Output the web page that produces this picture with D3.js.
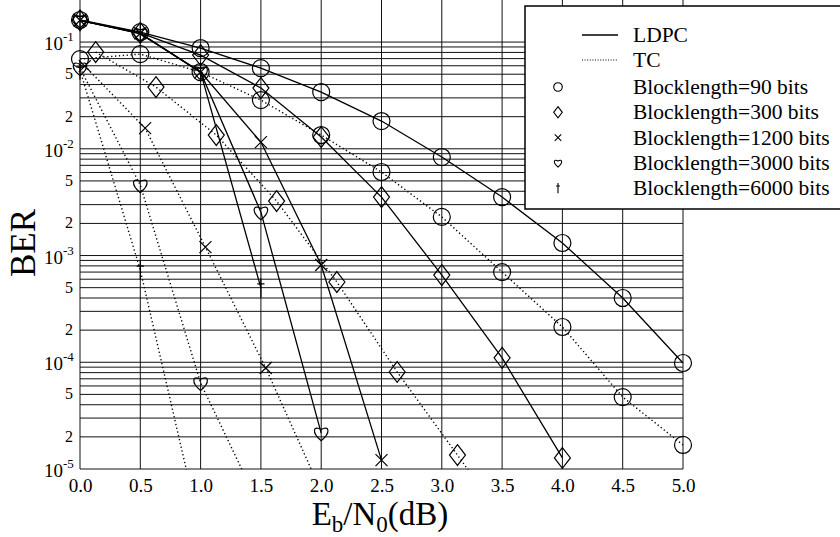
<!DOCTYPE html>
<html>
<head>
<meta charset="utf-8">
<script src="https://cdn.jsdelivr.net/npm/d3@7"></script>
<style>
  html, body { margin: 0; padding: 0; background: #fff; }
  svg { display: block; font-family: "Liberation Serif", "Times New Roman", serif; }
</style>
</head>
<body>
<svg id="chart"></svg>
<script>
// Eb/N0 points (dB)
var snrLdpc = [0, 0.5, 1.0, 1.5, 2.0, 2.5, 3.0, 3.5, 4.0, 4.5, 5.0];
var snrTc90 = [0, 0.5, 1.0, 1.5, 2.0, 2.5, 3.0, 3.5, 4.0, 4.5, 5.0];
var snrTc300 = [0.13, 0.63, 1.13, 1.63, 2.13, 2.63, 3.13, 3.63];
var snrTc1200 = [0.04, 0.54, 1.04, 1.54, 2.04];
var snrTc3000 = [0, 0.5, 1.0, 1.5];
var snrTc6000 = [0, 0.5, 1.0];

// BER values, LDPC (solid)
var berLdpc90 = [0.161, 0.124, 0.0879, 0.057, 0.034, 0.0182, 0.00837, 0.00353, 0.00131, 0.0004, 0.0000984];
var berLdpc300 = [0.16, 0.122, 0.0755, 0.0371, 0.0129, 0.00353, 0.000656, 0.00011, 0.0000127];
var berLdpc1200 = [0.16, 0.121, 0.0523, 0.01156, 0.000815, 0.0000121];
var berLdpc3000 = [0.16, 0.12, 0.0523, 0.00255, 0.0000217];
var berLdpc6000 = [0.16, 0.12, 0.0523, 0.000497];

// BER values, TC (dotted)
var berTc90 = [0.0693, 0.0772, 0.0523, 0.0286, 0.01346, 0.00606, 0.0023, 0.0007, 0.000214, 0.0000472, 0.0000168];
var berTc300 = [0.0806, 0.0379, 0.01346, 0.00324, 0.000565, 0.0000811, 0.0000135, 0.0000022];
var berTc1200 = [0.0596, 0.0156, 0.0012, 0.0000883, 0.0000049];
var berTc3000 = [0.0571, 0.00457, 0.000064, 0.0000042];
var berTc6000 = [0.0546, 0.000731, 0.0000026];

var xTicks = [0, 0.5, 1.0, 1.5, 2.0, 2.5, 3.0, 3.5, 4.0, 4.5, 5.0];
var yDecades = [1e-5, 1e-4, 1e-3, 1e-2, 1e-1];
var yDecadeExp = ["-5", "-4", "-3", "-2", "-1"];
var yMinorLabels = ["2", "5"];
var legendNames = ["Blocklength=90 bits", "Blocklength=300 bits", "Blocklength=1200 bits",
	"Blocklength=3000 bits", "Blocklength=6000 bits"];
var markerKinds = ["circle", "diamond", "cross", "heart", "dagger"];

var width = 840;
var height = 537;

var svg = d3.select("#chart")
	.attr("width", width)
	.attr("height", height);

var xScale = d3.scaleLinear()
	.domain([0, 5])
	.range([80, 683]);

var yScale = d3.scaleLog()
	.domain([1e-5, 0.161])
	.range([469, 20]);

var left = xScale(0), right = xScale(5), top = yScale(0.161), bottom = yScale(1e-5);

// grid
var gridY = [];
yDecades.forEach(function(d) {
	for (var k = 1; k <= 9; k++) {
		if (d * k <= 0.161) gridY.push(d * k);
	}
});

svg.append("g")
	.selectAll("line")
	.data(gridY)
	.enter()
	.append("line")
	.attr("x1", left)
	.attr("x2", right)
	.attr("y1", function(d) { return yScale(d); })
	.attr("y2", function(d) { return yScale(d); })
	.attr("stroke", "#111")
	.attr("stroke-width", 1);

svg.append("g")
	.selectAll("line")
	.data(xTicks)
	.enter()
	.append("line")
	.attr("x1", function(d) { return xScale(d); })
	.attr("x2", function(d) { return xScale(d); })
	.attr("y1", top)
	.attr("y2", bottom)
	.attr("stroke", "#111")
	.attr("stroke-width", 1);

svg.append("rect")
	.attr("x", left)
	.attr("y", top)
	.attr("width", right - left)
	.attr("height", bottom - top)
	.attr("fill", "none")
	.attr("stroke", "#000")
	.attr("stroke-width", 1.3);

// X Axis labels
var xAxis = d3.axisBottom(xScale)
	.tickValues(xTicks)
	.tickSize(0)
	.tickPadding(0)
	.tickFormat(d3.format(".1f"));

var xg = svg.append("g")
	.attr("transform", "translate(0," + bottom + ")")
	.attr("font-family", null)
	.call(xAxis);
xg.attr("font-family", "Liberation Serif");
xg.select(".domain").remove();
xg.selectAll("text")
	.attr("dy", null)
	.attr("y", 23)
	.attr("fill", "#000")
	.style("font-family", "Liberation Serif")
	.style("font-size", "19px");

// Y Axis labels
var yLab = svg.append("g");
yDecades.forEach(function(d, i) {
	yLab.append("text")
		.attr("x", 63)
		.attr("y", yScale(d) + 8)
		.attr("text-anchor", "end")
		.style("font-size", "19px")
		.text("10");
	yLab.append("text")
		.attr("x", 63)
		.attr("y", yScale(d) - 1)
		.style("font-size", "13px")
		.text(yDecadeExp[i]);
});
yDecades.slice(0, 4).forEach(function(d) {
	yMinorLabels.forEach(function(m) {
		yLab.append("text")
			.attr("x", 73)
			.attr("y", yScale(d * (+m)) + 5)
			.attr("text-anchor", "end")
			.style("font-size", "16px")
			.text(m);
	});
});

svg.append("text")
	.attr("text-anchor", "middle")
	.attr("transform", "translate(35,243)rotate(-90)")
	.style("font-size", "35px")
	.text("BER");

var xt = svg.append("text")
	.attr("x", 380)
	.attr("y", 525)
	.attr("text-anchor", "middle")
	.style("font-size", "33px");
xt.append("tspan").text("E");
xt.append("tspan").attr("dy", 7).style("font-size", "23px").text("b");
xt.append("tspan").attr("dy", -7).text("/N");
xt.append("tspan").attr("dy", 7).style("font-size", "23px").text("0");
xt.append("tspan").attr("dy", -7).text("(dB)");

// marker shapes
function markerPath(kind, s) {
	if (kind === "circle") {
		return "M" + s + ",0A" + s + "," + s + " 0 1,1 " + (-s) + ",0A" + s + "," + s + " 0 1,1 " + s + ",0Z";
	}
	if (kind === "diamond") {
		var h = s * 1.3;
		return "M0," + (-h) + "L" + s + ",0L0," + h + "L" + (-s) + ",0Z";
	}
	if (kind === "cross") {
		var c = s * 0.75;
		return "M" + (-c) + "," + (-c) + "L" + c + "," + c + "M" + c + "," + (-c) + "L" + (-c) + "," + c;
	}
	if (kind === "heart") {
		return "M0," + (0.95 * s) + "C" + (-1.25 * s) + "," + (-0.05 * s) + " " + (-1.0 * s) + "," + (-1.05 * s) +
			" 0," + (-0.45 * s) + "C" + (1.0 * s) + "," + (-1.05 * s) + " " + (1.25 * s) + "," + (-0.05 * s) + " 0," + (0.95 * s) + "Z";
	}
	// dagger
	return "M0," + (-1.2 * s) + "V" + (1.2 * s) + "M" + (-0.45 * s) + "," + (-0.5 * s) + "H" + (0.45 * s);
}

svg.append("clipPath").attr("id", "plotclip")
	.append("rect")
	.attr("x", 0)
	.attr("y", 0)
	.attr("width", width)
	.attr("height", bottom + 0.5);

var series = [
	{ x: snrLdpc, y: berLdpc90, kind: "circle", dash: null },
	{ x: snrLdpc, y: berLdpc300, kind: "diamond", dash: null },
	{ x: snrLdpc, y: berLdpc1200, kind: "cross", dash: null },
	{ x: snrLdpc, y: berLdpc3000, kind: "heart", dash: null },
	{ x: snrLdpc, y: berLdpc6000, kind: "dagger", dash: null },
	{ x: snrTc90, y: berTc90, kind: "circle", dash: "1.3,2.6" },
	{ x: snrTc300, y: berTc300, kind: "diamond", dash: "1.3,2.6" },
	{ x: snrTc1200, y: berTc1200, kind: "cross", dash: "1.3,2.6" },
	{ x: snrTc3000, y: berTc3000, kind: "heart", dash: "1.3,2.6" },
	{ x: snrTc6000, y: berTc6000, kind: "dagger", dash: "1.3,2.6" }
];

var line = d3.line()
	.x(function(d) { return xScale(d[0]); })
	.y(function(d) { return yScale(d[1]); });

var plot = svg.append("g").attr("clip-path", "url(#plotclip)");

series.forEach(function(s) {
	var pts = s.y.map(function(v, i) { return [s.x[i], v]; });
	plot.append("path")
		.datum(pts)
		.attr("d", line)
		.attr("fill", "none")
		.attr("stroke", "#000")
		.attr("stroke-width", s.dash ? 1.4 : 1.3)
		.attr("stroke-dasharray", s.dash);

	plot.selectAll(null)
		.data(pts)
		.enter()
		.append("path")
		.attr("transform", function(d) { return "translate(" + xScale(d[0]) + "," + yScale(d[1]) + ")"; })
		.attr("d", markerPath(s.kind, s.kind === "circle" ? 8.5 : 8))
		.attr("fill", "none")
		.attr("stroke", "#000")
		.attr("stroke-width", 1.2);
});

// Legend
var lg = svg.append("g");
lg.append("rect")
	.attr("x", 525)
	.attr("y", 6)
	.attr("width", 330)
	.attr("height", 203)
	.attr("fill", "#fff")
	.attr("stroke", "#000")
	.attr("stroke-width", 1.5);

lg.append("line")
	.attr("x1", 582).attr("x2", 618)
	.attr("y1", 35).attr("y2", 35)
	.attr("stroke", "#000").attr("stroke-width", 1.3);
lg.append("line")
	.attr("x1", 582).attr("x2", 618)
	.attr("y1", 60).attr("y2", 60)
	.attr("stroke", "#000").attr("stroke-width", 1.2)
	.attr("stroke-dasharray", "1,1.6");
lg.append("text").attr("x", 633).attr("y", 42).style("font-size", "21.5px").text("LDPC");
lg.append("text").attr("x", 633).attr("y", 67).style("font-size", "21.5px").text("TC");

legendNames.forEach(function(name, i) {
	var yy = 87 + i * 25.3;
	lg.append("path")
		.attr("transform", "translate(558," + yy + ")")
		.attr("d", markerPath(markerKinds[i], 4.3))
		.attr("fill", "none")
		.attr("stroke", "#000")
		.attr("stroke-width", 1.1);
	lg.append("text")
		.attr("x", 633)
		.attr("y", yy + 7)
		.style("font-size", "21.5px")
		.text(name);
});
</script>
</body>
</html>
